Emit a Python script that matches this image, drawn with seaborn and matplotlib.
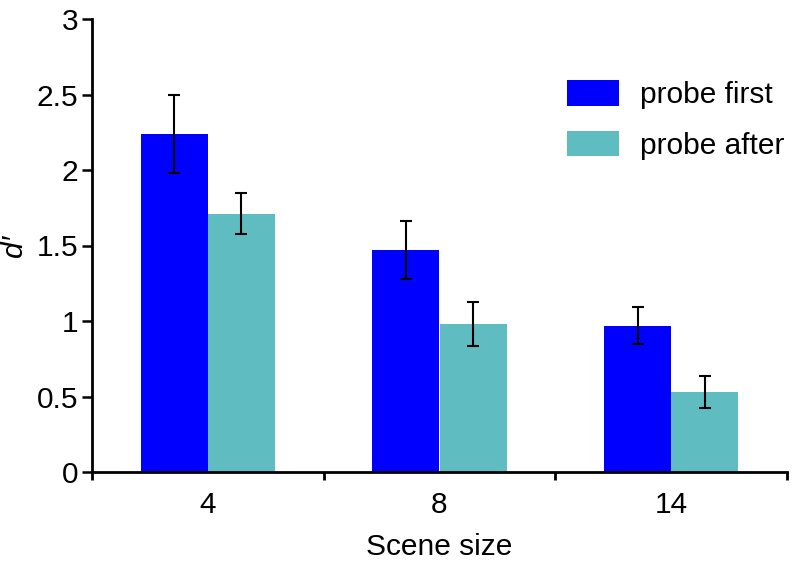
import matplotlib
matplotlib.use("Agg")
import matplotlib.pyplot as plt
import seaborn as sns
import pandas as pd
import numpy as np
from matplotlib.ticker import FuncFormatter, FixedLocator

sns.set_style("ticks")
plt.rcParams['font.family'] = ['Liberation Sans', 'DejaVu Sans']
plt.rcParams['text.color'] = 'black'
plt.rcParams['axes.labelcolor'] = 'black'
plt.rcParams['xtick.color'] = 'black'
plt.rcParams['ytick.color'] = 'black'
plt.rcParams['axes.edgecolor'] = 'black'

scene_sizes = ["4", "8", "14"]
conditions = ["probe first", "probe after"]
probe_first = [2.24, 1.47, 0.97]
probe_after = [1.71, 0.98, 0.53]
err_first = [0.26, 0.19, 0.12]
err_after = [0.135, 0.145, 0.105]
colors = ["#0000FF", "#5FBDC2"]

df = pd.DataFrame({
    "size": scene_sizes * 2,
    "cond": [conditions[0]] * 3 + [conditions[1]] * 3,
    "val": probe_first + probe_after,
    "err": err_first + err_after,
})

fig = plt.figure(figsize=(7.97, 5.62), dpi=100)
ax = fig.add_axes([92/797, 1 - 472/562, (787-92)/797, (472-19)/562])

sns.barplot(data=df, x="size", y="val", hue="cond", order=scene_sizes,
            hue_order=conditions, palette=colors, width=0.58, errorbar=None,
            saturation=1, ax=ax, linewidth=0)

# error bars at the bar centers
for cont, errs, vals in zip(ax.containers, [err_first, err_after], [probe_first, probe_after]):
    xs = [p.get_x() + p.get_width() / 2 for p in cont.patches]
    ax.errorbar(xs, vals, yerr=errs, fmt="none", ecolor="black",
                elinewidth=1.5, capsize=4, capthick=1.5, zorder=5)

ax.set_xlim(-0.5, 2.5)
ax.set_ylim(0, 3)
ax.set_yticks(np.arange(0, 3.01, 0.5))
ax.yaxis.set_major_formatter(FuncFormatter(lambda v, p: f"{v:g}"))
ax.xaxis.set_minor_locator(FixedLocator([-0.5, 0.5, 1.5, 2.5]))
ax.tick_params(axis="x", which="major", length=0, labelsize=21.5, pad=14)
ax.tick_params(axis="x", which="minor", length=6, width=2, direction="out")
ax.tick_params(axis="y", which="major", length=7, width=1.8, labelsize=21.5, pad=3)

for s in ["top", "right"]:
    ax.spines[s].set_visible(False)
for s in ["left", "bottom"]:
    ax.spines[s].set_linewidth(2)

ax.set_xlabel("Scene size", fontsize=21.5, labelpad=10)
ax.set_ylabel("d′", fontsize=21.5, fontstyle="italic")
ax.yaxis.set_label_coords(-0.092, 0.5)

leg = ax.legend(loc="upper left", bbox_to_anchor=(0.645, 0.924), frameon=False,
                fontsize=21.5, handlelength=1.72, handleheight=0.93,
                labelspacing=0.72, handletextpad=0.72)

fig.savefig("out.png", dpi=100)
